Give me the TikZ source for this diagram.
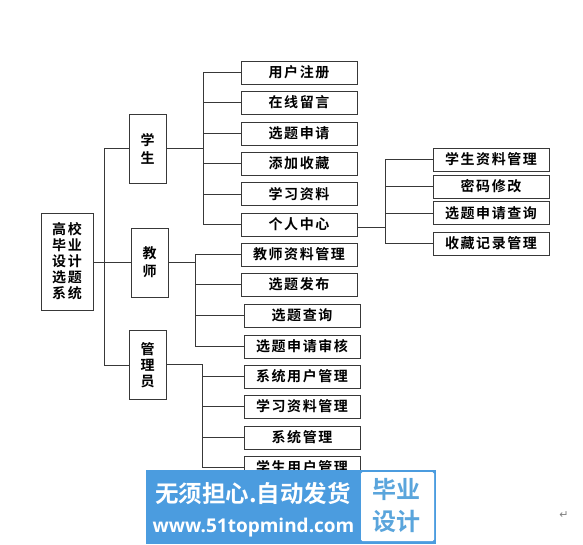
\documentclass[tikz,border=0pt]{standalone}
\usepackage{fontspec}
\setmainfont{Noto Sans CJK SC}[LetterSpace=11,BoldFont={* Bold}]
\newfontfamily\cjkban{Noto Sans CJK SC}[BoldFont={* Bold}]
\newfontfamily\latban{Open Sans}[BoldFont={* Bold}]
\newfontfamily\symb{DejaVu Sans}
\definecolor{banblue}{HTML}{4B9CDF}
\definecolor{bantxt}{HTML}{5AA5DC}
\definecolor{linec}{HTML}{383838}
\tikzset{
  box/.style={draw=linec,line width=1pt,fill=white,inner sep=0pt,align=center,font=\bfseries\fontsize{14}{16}\selectfont},
  wide/.style={box,minimum width=116pt,minimum height=23pt},
  mid/.style={box,minimum width=37pt,minimum height=69pt},
  conn/.style={draw=linec,line width=1pt},
}
\begin{document}
\begin{tikzpicture}[x=1pt,y=-1pt]
\useasboundingbox (0,0) rectangle (583,544);
\node[box,minimum width=52pt,minimum height=97pt] (root) at (67,261.5) {高校\\毕业\\设计\\选题\\系统};
\node[mid] (stu) at (147.5,148.5) {学\\[2pt]生};
\node[mid] (tea) at (149.5,262.5) {教\\[2pt]师};
\node[mid] (adm) at (147.5,365) {管\\理\\员};
\node[wide] (r1) at (299,72.5) {用户注册};
\node[wide] (r2) at (299,102.5) {在线留言};
\node[wide] (r3) at (299,133.5) {选题申请};
\node[wide] (r4) at (299,163.5) {添加收藏};
\node[wide] (r5) at (299,194) {学习资料};
\node[wide] (r6) at (299,224.5) {个人中心};
\node[wide] (t1) at (299,254.5) {教师资料管理};
\node[wide] (t2) at (299,284.5) {选题发布};
\node[wide] (t3) at (302,315.5) {选题查询};
\node[wide] (t4) at (302,346.5) {选题申请审核};
\node[wide] (a1) at (302,376.5) {系统用户管理};
\node[wide] (a2) at (302,406.5) {学习资料管理};
\node[wide] (a3) at (302,437.5) {系统管理};
\node[wide] (a4) at (302,467.5) {学生用户管理};
\node[wide] (p1) at (491,159.5) {学生资料管理};
\node[wide] (p2) at (491,186.5) {密码修改};
\node[wide] (p3) at (491,213) {选题申请查询};
\node[wide] (p4) at (491,243.5) {收藏记录管理};
% buses
\coordinate (trunk) at (104,262);
\coordinate (sbus) at (203,148);
\coordinate (tbus) at (195,262);
\coordinate (abus) at (202,364);
\coordinate (pbus) at (385,227);
\draw[conn] (root.east |- trunk) -- (tea.west |- trunk);
\draw[conn] (trunk |- stu.west) -- (trunk |- adm.west);
\draw[conn] (trunk |- stu.west) -- (stu.west);
\draw[conn] (trunk |- adm.west) -- (adm.west);
\draw[conn] (stu.east) -- (sbus |- stu.east);
\draw[conn] (sbus |- r1.west) -- (sbus |- r6.west);
\foreach \n in {r1,r2,r3,r4,r5,r6} \draw[conn] (sbus |- \n.west) -- (\n.west);
\draw[conn] (tea.east |- tbus) -- (tbus);
\draw[conn] (tbus |- t1.west) -- (tbus |- t4.west);
\foreach \n in {t1,t2,t3,t4} \draw[conn] (tbus |- \n.west) -- (\n.west);
\draw[conn] (adm.east |- abus) -- (abus);
\draw[conn] (abus) -- (abus |- a4.west);
\foreach \n in {a1,a2,a3,a4} \draw[conn] (abus |- \n.west) -- (\n.west);
\draw[conn] (r6.east |- pbus) -- (pbus);
\draw[conn] (pbus |- p1.west) -- (pbus |- p4.west);
\foreach \n in {p1,p2,p3,p4} \draw[conn] (pbus |- \n.west) -- (\n.west);
% banner
\node[fill=banblue,minimum width=290pt,minimum height=74pt,inner sep=0pt] (ban) at (291,507) {};
\node[fill=white,rounded corners=1.5pt,minimum width=73pt,minimum height=69pt,inner sep=0pt] (banw) at (397.5,506.5) {};
\node[text=white,inner sep=0pt,font=\cjkban\bfseries\fontsize{23.5}{27}\selectfont] (ban1) at (253,494) {无须担心.自动发货};
\node[text=white,inner sep=0pt,font=\latban\bfseries\fontsize{19}{24}\selectfont] (ban2) at (253.5,527.5) {www.51topmind.com};
\node[text=bantxt,inner sep=0pt,align=center,font=\cjkban\bfseries\fontsize{24}{32}\selectfont] (ban3) at (396,506) {毕业\\设计};
\node[text=gray,inner sep=0pt,font=\symb\fontsize{11}{11}\selectfont] (ret) at (564,515) {↵};
\end{tikzpicture}
\end{document}
